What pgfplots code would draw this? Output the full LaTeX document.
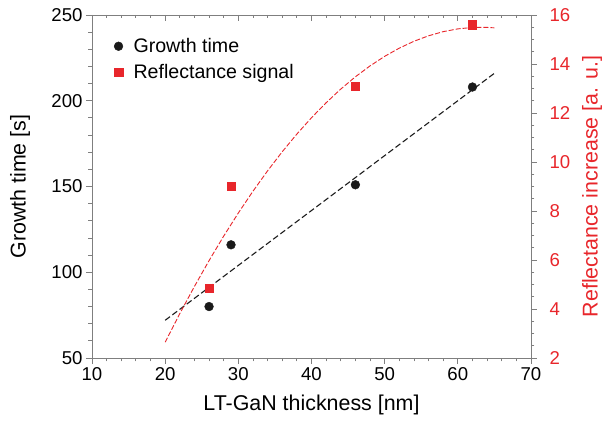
\documentclass[border=0pt]{standalone}
\usepackage{fontspec}
\setmainfont{Liberation Sans}
\usepackage{pgfplots}
\pgfplotsset{compat=1.18}
\definecolor{ptred}{HTML}{E8262B}
\definecolor{ptblack}{HTML}{1A1A1A}
\definecolor{axgray}{HTML}{7F7F7F}

\pgfplotsset{
  base/.style={
    scale only axis, width=439pt, height=343pt,
    xmin=10, xmax=70,
    axis line style={axgray, line width=0.8pt},
    tick style={axgray, line width=0.8pt},
    major tick length=6pt, minor tick length=3.5pt,
    /pgf/number format/assume math mode=true,
    ticklabel style={font=\fontsize{18.6}{22}\selectfont},
    label style={font=\fontsize{21.4}{25}\selectfont},
  }
}

\begin{document}
\begin{tikzpicture}
% left axis: growth time
\begin{axis}[base,
  ymin=50, ymax=250,
  axis x line*=bottom, axis y line*=left,
  tick align=outside,
  xtick={10,20,...,70}, minor x tick num=4,
  ytick={50,100,...,250}, minor y tick num=4,
  xlabel={LT-GaN thickness [nm]},
  xlabel style={at={(axis description cs:0.5,-0.137)}, anchor=center},
  ylabel={Growth time [s]},
  ylabel style={at={(axis description cs:-0.164,0.5)}, anchor=center},
]
\addplot[ptblack, line width=1.1pt, dash pattern=on 6pt off 3pt] coordinates {(20,72)(65,216)};
\addplot[only marks, mark=*, mark size=4.4pt, ptblack] coordinates {
  (26,80) (29,116) (46,151) (62,208)
};
\end{axis}

% top frame with inward ticks
\begin{axis}[base,
  ymin=50, ymax=250,
  axis x line*=top, axis y line=none,
  tick align=inside,
  xtick={10,20,...,70}, minor x tick num=4,
  xticklabels={},
]
\end{axis}

% right axis: reflectance
\begin{axis}[base,
  ymin=2, ymax=16,
  axis y line*=right, axis x line=none,
  tick align=outside,
  ytick={2,4,...,16}, minor y tick num=3,
  yticklabel style={text=ptred, xshift=9pt},
  ylabel={Reflectance increase [a. u.]},
  ylabel style={text=ptred, at={(axis description cs:1.139,0.5)}, anchor=center},
  legend style={at={(0.043,0.944)}, anchor=north west, draw=none, fill=none,
    font=\fontsize{19.6}{23}\selectfont,
    nodes={font=\fontsize{19.6}{23}\selectfont}, row sep=6pt},
  legend cell align=left,
  legend image code/.code={\path (0cm,0cm) (0.6cm,0cm); \draw[#1] plot coordinates {(0.15cm,0cm)};},
]
\addlegendimage{only marks, mark=*, mark size=4.4pt, ptblack}
\addlegendentry{Growth time}
\addplot[ptred, line width=0.9pt, dash pattern=on 5pt off 2pt, forget plot] coordinates {
  (20,2.645) (22,3.811) (24,4.921) (26,5.975) (28,6.975) (30,7.918)
  (32,8.807) (34,9.640) (36,10.418) (38,11.140) (40,11.807) (42,12.419)
  (44,12.976) (46,13.477) (48,13.922) (50,14.313) (52,14.647) (54,14.927)
  (56,15.151) (58,15.320) (60,15.433) (62,15.492) (64,15.494) (65,15.475)
};
\addplot[only marks, mark=square*, mark size=4.2pt, ptred] coordinates {
  (26,4.85) (29,9.0) (46,13.1) (62,15.6)
};
\addlegendentry{Reflectance signal}
\end{axis}
\path[use as bounding box] (-92pt,-64pt) rectangle (516pt,358pt);
\end{tikzpicture}
\end{document}
